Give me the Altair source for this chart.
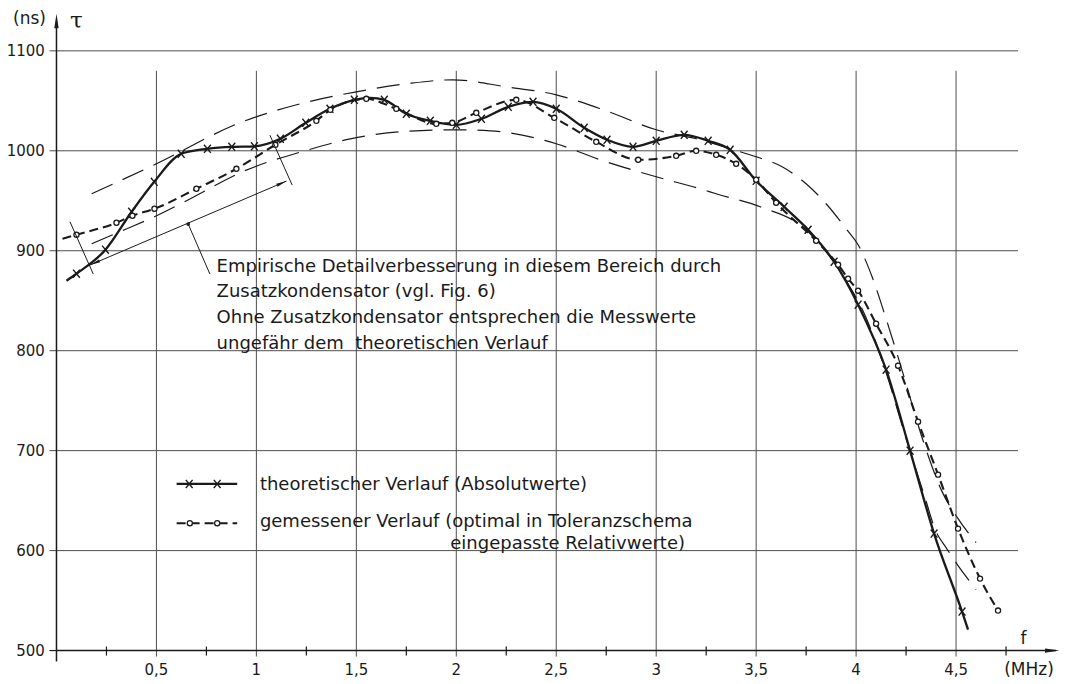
import altair as alt
import pandas as pd

# ---------------- data ----------------
# theoretical curve (solid, x markers); mark=1 -> marker drawn
theo_f = [0.05, 0.10, 0.245, 0.376, 0.489, 0.624, 0.755, 0.877, 0.99, 1.12, 1.247, 1.368, 1.49, 1.57, 1.64,
          1.75, 1.87, 2.0, 2.126, 2.26, 2.384, 2.50, 2.64, 2.754, 2.884, 3.0, 3.14, 3.26, 3.37, 3.50,
          3.64, 3.76, 3.89, 4.01, 4.15, 4.27, 4.39, 4.53, 4.56]
theo_tau = [870, 877, 901, 939, 969, 997, 1002, 1004, 1004.5, 1012, 1028, 1042, 1051, 1053, 1051,
            1037, 1030, 1026, 1032, 1044, 1049, 1042, 1023, 1011, 1004, 1010, 1016, 1010, 1001, 970,
            944, 921, 889, 846, 781, 700, 617, 539, 521]
theo_mark = [0, 1, 1, 1, 1, 1, 1, 1, 1, 1, 1, 1, 1, 0, 1,
             1, 1, 1, 1, 1, 1, 1, 1, 1, 1, 1, 1, 1, 1, 1,
             1, 1, 1, 1, 1, 1, 1, 1, 0]

# measured curve (dashed, circle markers)
meas_f = [0.03, 0.10, 0.30, 0.38, 0.49, 0.70, 0.90, 1.095, 1.30, 1.37, 1.55, 1.70, 1.90, 1.98, 2.10,
          2.30, 2.49, 2.70, 2.91, 3.10, 3.20, 3.30, 3.40, 3.50, 3.60, 3.80, 3.91, 3.96, 4.01, 4.10,
          4.21, 4.31, 4.41, 4.51, 4.62, 4.71]
meas_tau = [912, 916, 928, 935, 942, 962, 982, 1006, 1030, 1041, 1052, 1042, 1027, 1028, 1038,
            1051, 1033, 1009, 991, 995, 1000, 996, 987, 971, 948, 910, 886, 872, 860, 827,
            785, 729, 676, 622, 572, 540]
meas_mark = [0] + [1] * 35

# tolerance scheme (long dashes)
upper_f = [0.176, 0.49, 0.93, 1.22, 1.50, 1.75, 1.98, 2.25, 2.50, 2.75, 3.0, 3.2, 3.37, 3.5, 3.63,
           3.75, 3.85, 3.95, 4.01, 4.08, 4.15, 4.22, 4.35, 4.43, 4.51, 4.60]
upper_tau = [957, 986, 1029, 1047, 1059, 1067, 1071, 1064, 1056, 1040, 1021, 1012, 1002, 994, 984,
             967, 947, 922, 906, 874, 832, 787, 701, 659, 632, 608]
lower_f = [0.176, 0.34, 0.49, 0.66, 0.93, 1.26, 1.47, 1.72, 2.0, 2.17, 2.5, 2.72, 3.0, 3.22, 3.30,
           3.52, 3.75, 3.85, 3.95, 4.05, 4.15, 4.25, 4.34, 4.40, 4.45, 4.51, 4.60]
lower_tau = [907, 921, 934, 951, 979, 1001, 1012, 1019, 1021, 1020, 1007, 991, 974, 962, 957,
             944, 921, 899, 870, 833, 778, 712, 656, 619, 603, 585, 561]

# axes / grid
y_ticks = [500, 600, 700, 800, 900, 1000, 1100]
y_tick_labels = ["500", "600", "700", "800", "900", "1000", "1100"]
x_ticks = [0.5, 1.0, 1.5, 2.0, 2.5, 3.0, 3.5, 4.0, 4.5]
x_tick_labels = ["0,5", "1", "1,5", "2", "2,5", "3", "3,5", "4", "4,5"]
minor_ticks = [0.25, 0.75, 1.25, 1.75, 2.25, 2.75, 3.25, 3.75, 4.25, 4.75]

# annotation texts
NB = "\u00a0"
note_lines = [
    "Empirische Detailverbesserung in diesem Bereich durch",
    "Zusatzkondensator (vgl. Fig. 6)",
    "Ohne Zusatzkondensator entsprechen die Messwerte",
    "ungefähr dem" + NB + " theoretischen Verlauf",
]
note_tau = [884, 858.7, 832.7, 806.7]
legend_labels = ["theoretischer Verlauf (Absolutwerte)",
                 "gemessener Verlauf (optimal in Toleranzschema",
                 "eingepasste Relativwerte)"]

# ---------------- chart ----------------
XS = alt.Scale(domain=[0, 5.03], nice=False, zero=False)
YS = alt.Scale(domain=[500, 1140], nice=False, zero=False)
INK = "#1a1a1a"
GRID = "#4d4d4d"
FONT = "DejaVu Sans"


def base(df):
    return alt.Chart(df)


def enc_xy(ch, **extra):
    return ch.encode(x=alt.X("f:Q", scale=XS, axis=None),
                     y=alt.Y("t:Q", scale=YS, axis=None), **extra)


def rules(df, **mk):
    return base(df).mark_rule(**mk).encode(
        x=alt.X("f:Q", scale=XS, axis=None), x2="f2:Q",
        y=alt.Y("t:Q", scale=YS, axis=None), y2="t2:Q")


layers = []

# horizontal grid lines (with short tick left of the axis)
hg = pd.DataFrame({"f": [-0.035] * 6, "f2": [4.81] * 6, "t": y_ticks[1:], "t2": y_ticks[1:]})
layers.append(rules(hg, color=GRID, strokeWidth=1))
# vertical grid lines
vg = pd.DataFrame({"f": x_ticks, "f2": x_ticks, "t": [494] * 9, "t2": [1080] * 9})
layers.append(rules(vg, color=GRID, strokeWidth=1))
# minor ticks on x axis, tick at 500
mt = pd.DataFrame({"f": minor_ticks + [-0.035], "f2": minor_ticks + [0],
                   "t": [495] * 10 + [500], "t2": [504] * 10 + [500]})
layers.append(rules(mt, color=INK, strokeWidth=1.2))
# axes lines
ax = pd.DataFrame({"f": [0, 0], "f2": [5.0, 0], "t": [500, 489], "t2": [500, 1130]})
layers.append(rules(ax, color=INK, strokeWidth=1.5))

# tolerance band
tol = pd.concat([
    pd.DataFrame({"f": upper_f, "t": upper_tau, "k": "upper"}),
    pd.DataFrame({"f": lower_f, "t": lower_tau, "k": "lower"}),
])
layers.append(enc_xy(base(tol).mark_line(color=INK, strokeWidth=1.2, strokeDash=[23, 11],
                                         interpolate="monotone"), detail="k:N"))

# measured curve
meas = pd.DataFrame({"f": meas_f, "t": meas_tau, "m": meas_mark})
layers.append(enc_xy(base(meas).mark_line(color=INK, strokeWidth=2.1, strokeDash=[9, 5],
                                          interpolate="monotone")))
# theoretical curve
theo = pd.DataFrame({"f": theo_f, "t": theo_tau, "m": theo_mark})
layers.append(enc_xy(base(theo).mark_line(color=INK, strokeWidth=2.3, interpolate="monotone")))

XMARK = "M-1,-1.2L1,1.2M-1,1.2L1,-1.2"
layers.append(enc_xy(base(theo[theo.m == 1]).mark_point(shape=XMARK, filled=False, stroke=INK,
                                                        strokeWidth=1.4, size=46, opacity=1)))
layers.append(enc_xy(base(meas[meas.m == 1]).mark_point(shape="circle", filled=True, fill="white",
                                                        stroke=INK, strokeWidth=1.3, size=26,
                                                        opacity=1)))

# annotation: double arrow, boundary lines, leader
ann = pd.DataFrame({"f": [0.1675, 0.0675, 1.0675, 0.7675],
                    "f2": [1.151, 0.184, 1.179, 0.659],
                    "t": [885.7, 929, 1015.7, 876.7],
                    "t2": [969.7, 876.7, 965.7, 926.7]})
layers.append(rules(ann, color=INK, strokeWidth=1))
dot = pd.DataFrame({"f": [0.659], "t": [926.7]})
layers.append(enc_xy(base(dot).mark_point(shape="circle", filled=True, color=INK, size=14, opacity=1)))

# arrow heads
ah = pd.DataFrame({"f": [1.151, 0.1675, 5.0175, 0.0],
                   "t": [969.7, 885.7, 500, 1137],
                   "a": [66.9, 246.9, 90, 0],
                   "s": [110, 110, 210, 210]})
layers.append(enc_xy(base(ah).mark_point(shape="M0,0L0.3,2L-0.3,2Z", filled=True, color=INK, opacity=1),
                     angle=alt.Angle("a:Q", scale=None), size=alt.Size("s:Q", scale=None)))

# tick labels
yl = pd.DataFrame({"f": [-0.058] * 7, "t": y_ticks, "label": y_tick_labels})
layers.append(enc_xy(base(yl).mark_text(align="right", baseline="middle", font=FONT, fontSize=15,
                                        color=INK), text="label:N"))
xl = pd.DataFrame({"f": x_ticks, "t": [480.7] * 9, "label": x_tick_labels})
layers.append(enc_xy(base(xl).mark_text(align="center", baseline="middle", font=FONT, fontSize=15,
                                        color=INK), text="label:N"))

# axis titles
at = pd.DataFrame({"f": [-0.135, 4.8375, 4.865], "t": [1132, 511.7, 480.7],
                   "label": ["(ns)", "f", "(MHz)"]})
layers.append(enc_xy(base(at).mark_text(align="center", baseline="middle", font=FONT, fontSize=17,
                                        color=INK), text="label:N"))
tau = pd.DataFrame({"f": [0.1], "t": [1130], "label": ["τ"]})
layers.append(enc_xy(base(tau).mark_text(align="center", baseline="middle", font="DejaVu Serif",
                                         fontSize=23, color=INK), text="label:N"))

# annotation text
nt = pd.DataFrame({"f": [0.801] * 4, "t": note_tau, "label": note_lines})
layers.append(enc_xy(base(nt).mark_text(align="left", baseline="middle", font=FONT, fontSize=18,
                                        color=INK), text="label:N"))

# legend
lg_line = pd.DataFrame({"f": [0.601, 0.904], "t": [666.7, 666.7]})
layers.append(enc_xy(base(lg_line).mark_line(color=INK, strokeWidth=2.3)))
lg_dash = pd.DataFrame({"f": [0.601, 0.904], "t": [627.4, 627.4]})
layers.append(enc_xy(base(lg_dash).mark_line(color=INK, strokeWidth=2.1, strokeDash=[9, 5])))
lg_x = pd.DataFrame({"f": [0.664, 0.804], "t": [666.7, 666.7]})
layers.append(enc_xy(base(lg_x).mark_point(shape=XMARK, filled=False, stroke=INK, strokeWidth=1.4,
                                           size=46, opacity=1)))
lg_o = pd.DataFrame({"f": [0.667, 0.804], "t": [627.4, 627.4]})
layers.append(enc_xy(base(lg_o).mark_point(shape="circle", filled=True, fill="white", stroke=INK,
                                           strokeWidth=1.3, size=26, opacity=1)))
lt = pd.DataFrame({"f": [1.0175, 1.0175, 1.97], "t": [665.7, 628.7, 606.5], "label": legend_labels})
layers.append(enc_xy(base(lt).mark_text(align="left", baseline="middle", font=FONT, fontSize=18,
                                        color=INK), text="label:N"))

chart = alt.layer(*layers).properties(
    width=1006, height=640,
    autosize=alt.AutoSizeParams(type="none"),
    padding={"left": 48.5, "top": 2.7, "right": 0, "bottom": 30},
    background="white",
).configure_view(stroke=None)

chart.save("out.html", embed_options={"renderer": "svg", "actions": False})
